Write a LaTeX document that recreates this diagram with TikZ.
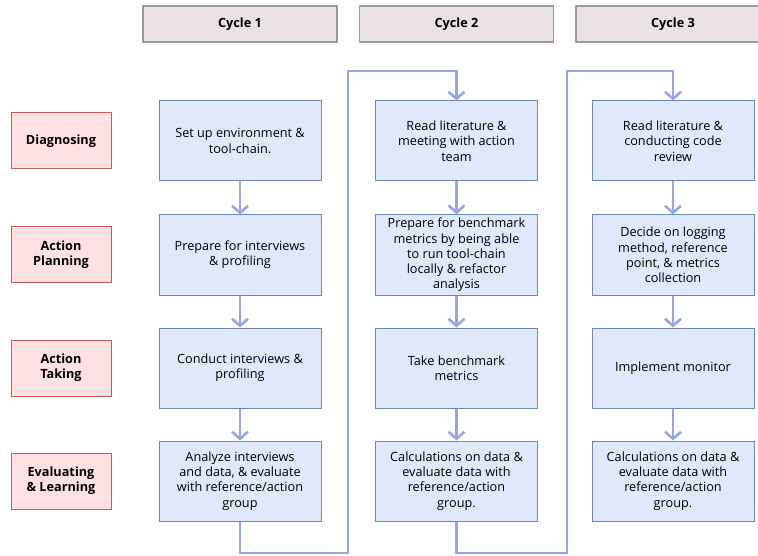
\documentclass[tikz,border=0pt]{standalone}
\usepackage{fontspec}
\setmainfont{Open Sans}
\usetikzlibrary{arrows.meta}
\definecolor{headfill}{HTML}{EAE2E2}
\definecolor{headline}{HTML}{9A9A9A}
\definecolor{phasefill}{HTML}{FFE1E4}
\definecolor{phaseline}{HTML}{C85A5A}
\definecolor{taskfill}{HTML}{E0E8FC}
\definecolor{taskline}{HTML}{6A88B8}
\definecolor{flowline}{HTML}{98A4E4}
\newcommand{\flowcolor}{flowline}
\newcommand{\flowwidth}{2.6pt}
\newcommand{\boxfont}{\fontsize{12.7}{15.3}\selectfont}

\begin{document}
\begin{tikzpicture}[x=1pt,y=-1pt,
  cycle/.style={draw=headline, fill=headfill, line width=1.2pt, minimum width=194pt, minimum height=36pt, font=\boxfont\bfseries},
  phase/.style={draw=phaseline, fill=phasefill, line width=1pt, minimum width=100pt, minimum height=56pt, align=center, font=\boxfont\bfseries},
  task/.style={draw=taskline, fill=taskfill, line width=1pt, minimum width=162pt, minimum height=80pt, align=center, font=\boxfont},
  flow/.style={draw=\flowcolor, line width=\flowwidth, -{Straight Barb[length=7pt,width=16pt]}}]
\clip (0,0) rectangle (758,556);
% cycles
\node[cycle] (c1) at (240,24) {Cycle 1};
\node[cycle] (c2) at (456.5,24) {Cycle 2};
\node[cycle] (c3) at (673,24) {Cycle 3};
% phases
\node[phase] (d) at (61,141) {Diagnosing};
\node[phase] (p) at (61,255) {Action\\Planning};
\node[phase] (t) at (61,368) {Action\\Taking};
\node[phase] (e) at (61,481) {Evaluating\\\& Learning};
% cycle 1
\node[task] (11) at (240,141) {Set up environment \&\\tool-chain.};
\node[task] (12) at (240,255) {Prepare for interviews\\\& profiling};
\node[task] (13) at (240,368) {Conduct interviews \&\\profiling};
\node[task] (14) at (240,481) {Analyze interviews\\and data, \& evaluate\\with reference/action\\group};
% cycle 2
\node[task] (21) at (456.5,141) {Read literature \&\\meeting with action\\team};
\node[task] (22) at (456.5,255) {Prepare for benchmark\\metrics by being able\\to run tool-chain\\locally \& refactor\\analysis};
\node[task] (23) at (456.5,368) {Take benchmark\\metrics};
\node[task] (24) at (456.5,481) {Calculations on data \&\\evaluate data with\\reference/action\\group.};
% cycle 3
\node[task] (31) at (673,141) {Read literature \&\\conducting code\\review};
\node[task] (32) at (673,255) {Decide on logging\\method, reference\\point, \& metrics\\collection};
\node[task] (33) at (673,368) {Implement monitor};
\node[task] (34) at (673,481) {Calculations on data \&\\evaluate data with\\reference/action\\group.};
% turns
\coordinate (low1) at (348,553);
\coordinate (high1) at (348,71);
\coordinate (low2) at (567,553);
\coordinate (high2) at (567,71);
% flow
\draw[flow] (11) -- (12);
\draw[flow] (12) -- (13);
\draw[flow] (13) -- (14);
\draw[flow] (14) |- (low1) -- (high1) -| (21);
\draw[flow] (21) -- (22);
\draw[flow] (22) -- (23);
\draw[flow] (23) -- (24);
\draw[flow] (24) |- (low2) -- (high2) -| (31);
\draw[flow] (31) -- (32);
\draw[flow] (32) -- (33);
\draw[flow] (33) -- (34);
\end{tikzpicture}
\end{document}
